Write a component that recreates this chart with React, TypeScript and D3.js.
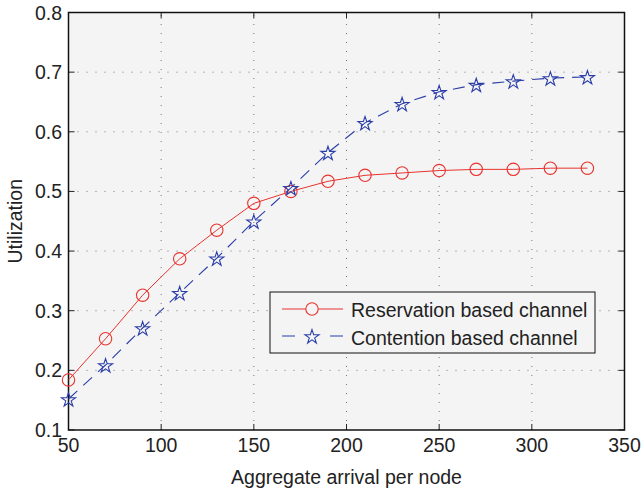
import React, { useEffect, useRef } from 'react'
import * as d3 from 'd3'

const arrivals = [50, 70, 90, 110, 130, 150, 170, 190, 210, 230, 250, 270, 290, 310, 330]
const reservation = [0.184, 0.253, 0.326, 0.387, 0.435, 0.48, 0.5, 0.517, 0.527, 0.531, 0.535, 0.537, 0.537, 0.539, 0.539]
const contention = [0.152, 0.209, 0.271, 0.33, 0.388, 0.45, 0.506, 0.565, 0.615, 0.647, 0.667, 0.679, 0.685, 0.69, 0.692]
const xTicks = [50, 100, 150, 200, 250, 300, 350]
const yTicks = [0.1, 0.2, 0.3, 0.4, 0.5, 0.6, 0.7, 0.8]
const seriesNames = ['Reservation based channel', 'Contention based channel']

const W = 641
const H = 491
const font = 'Liberation Sans, Arial, sans-serif'
const fs = 19.5

const App = () => {
  const ref = useRef<SVGSVGElement>(null)

  useEffect(() => {
    const svg = d3.select(ref.current)
    svg.selectAll('*').remove()

    const m = { left: 68.5, right: 624.5, top: 12.5, bottom: 430 }
    const x = d3.scaleLinear().domain([50, 350]).range([m.left, m.right])
    const y = d3.scaleLinear().domain([0.1, 0.8]).range([m.bottom, m.top])

    svg.append('rect')
      .attr('x', 0).attr('y', 0).attr('width', W).attr('height', H)
      .attr('fill', '#fff')

    svg.append('rect')
      .attr('x', m.left).attr('y', m.top)
      .attr('width', m.right - m.left).attr('height', m.bottom - m.top)
      .attr('fill', '#f4f4f4')

    // dotted grid
    const grid = svg.append('g').attr('stroke', '#777').attr('stroke-width', 1).attr('stroke-dasharray', '1,8')
    xTicks.slice(1, -1).forEach(t => {
      grid.append('line').attr('x1', x(t)).attr('x2', x(t)).attr('y1', m.bottom).attr('y2', m.top)
    })
    yTicks.slice(1, -1).forEach(t => {
      grid.append('line').attr('x1', m.left).attr('x2', m.right).attr('y1', y(t)).attr('y2', y(t))
    })

    // ticks (inward, all four sides)
    const tk = svg.append('g').attr('stroke', '#222').attr('stroke-width', 1)
    xTicks.forEach(t => {
      tk.append('line').attr('x1', x(t)).attr('x2', x(t)).attr('y1', m.bottom).attr('y2', m.bottom - 6)
      tk.append('line').attr('x1', x(t)).attr('x2', x(t)).attr('y1', m.top).attr('y2', m.top + 6)
    })
    yTicks.forEach(t => {
      tk.append('line').attr('x1', m.left).attr('x2', m.left + 6).attr('y1', y(t)).attr('y2', y(t))
      tk.append('line').attr('x1', m.right).attr('x2', m.right - 6).attr('y1', y(t)).attr('y2', y(t))
    })

    svg.append('rect')
      .attr('x', m.left).attr('y', m.top)
      .attr('width', m.right - m.left).attr('height', m.bottom - m.top)
      .attr('fill', 'none').attr('stroke', '#111').attr('stroke-width', 1.5)

    // tick labels
    svg.append('g').selectAll('text').data(xTicks).join('text')
      .attr('x', d => x(d)).attr('y', m.bottom + 22)
      .attr('text-anchor', 'middle')
      .attr('font-family', font).attr('font-size', fs).attr('fill', '#222')
      .text(d => d)
    svg.append('g').selectAll('text').data(yTicks).join('text')
      .attr('x', m.left - 6.5).attr('y', d => y(d) + 7)
      .attr('text-anchor', 'end')
      .attr('font-family', font).attr('font-size', fs).attr('fill', '#222')
      .text(d => d3.format('.1f')(d))

    svg.append('text')
      .attr('x', (m.left + m.right) / 2).attr('y', 484)
      .attr('text-anchor', 'middle')
      .attr('font-family', font).attr('font-size', fs).attr('fill', '#222')
      .text('Aggregate arrival per node')
    svg.append('text')
      .attr('transform', `translate(22,${(m.top + m.bottom) / 2}) rotate(-90)`)
      .attr('text-anchor', 'middle')
      .attr('font-family', font).attr('font-size', fs).attr('fill', '#222')
      .text('Utilization')

    const red = '#e8332e'
    const blue = '#2b3ea8'
    const starPath = d3.symbol(d3.symbolStar, 62)()

    const line = d3.line<number>().x((d, i) => x(arrivals[i])).y(d => y(d))

    svg.append('path').datum(reservation).attr('d', line)
      .attr('fill', 'none').attr('stroke', red).attr('stroke-width', 1)
    svg.append('path').datum(contention).attr('d', line)
      .attr('fill', 'none').attr('stroke', blue).attr('stroke-width', 1.1)
      .attr('stroke-dasharray', '12,8')

    svg.append('g').selectAll('circle').data(reservation).join('circle')
      .attr('cx', (d, i) => x(arrivals[i])).attr('cy', d => y(d)).attr('r', 6.2)
      .attr('fill', 'none').attr('stroke', red).attr('stroke-width', 1.1)
    svg.append('g').selectAll('path').data(contention).join('path')
      .attr('d', starPath)
      .attr('transform', (d, i) => `translate(${x(arrivals[i])},${y(d) + 1})`)
      .attr('fill', 'none').attr('stroke', blue).attr('stroke-width', 1.1)

    // legend
    const lg = svg.append('g').attr('transform', 'translate(270,292)')
    lg.append('rect').attr('width', 325).attr('height', 61)
      .attr('fill', '#f4f4f4').attr('stroke', '#111').attr('stroke-width', 1)
    lg.append('line').attr('x1', 12).attr('x2', 73).attr('y1', 17).attr('y2', 17)
      .attr('stroke', red).attr('stroke-width', 1)
    lg.append('circle').attr('cx', 42).attr('cy', 17).attr('r', 6.2)
      .attr('fill', '#f4f4f4').attr('stroke', red).attr('stroke-width', 1.1)
    lg.append('line').attr('x1', 12).attr('x2', 73).attr('y1', 44).attr('y2', 44)
      .attr('stroke', blue).attr('stroke-width', 1.1).attr('stroke-dasharray', '13,35,13')
    lg.append('path').attr('d', starPath).attr('transform', 'translate(42,45)')
      .attr('fill', 'none').attr('stroke', blue).attr('stroke-width', 1.1)
    lg.selectAll('text.lab').data(seriesNames).join('text')
      .attr('x', 81).attr('y', (d, i) => 25 + i * 28)
      .attr('font-family', font).attr('font-size', fs).attr('fill', '#222')
      .text(d => d)
  }, [])

  return <svg ref={ref} width={W} height={H} style={{ display: 'block', position: 'absolute', left: 0, top: 0 }} />
}

export default App
